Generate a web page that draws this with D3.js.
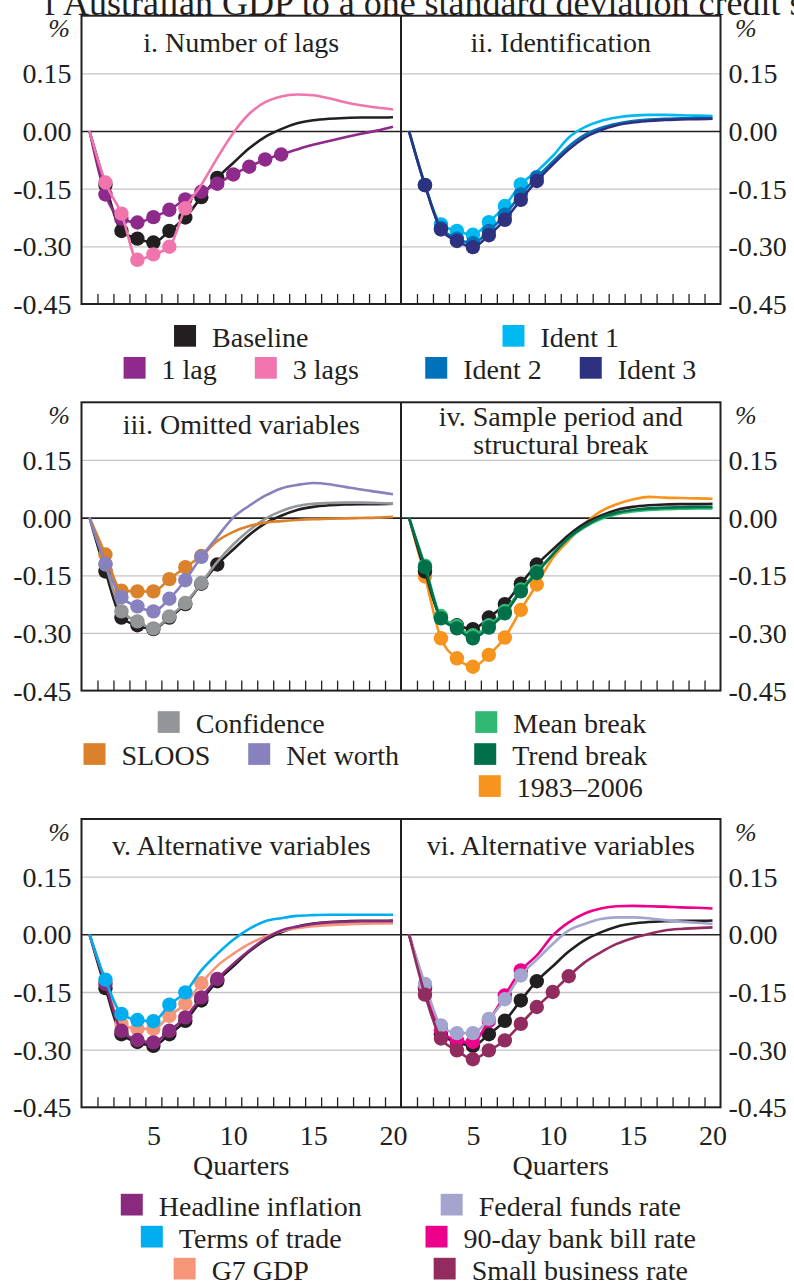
<!DOCTYPE html>
<html><head><meta charset="utf-8">
<script src="https://cdn.jsdelivr.net/npm/d3@7/dist/d3.min.js"></script>
<style>
body{margin:0;background:#fff}
svg{display:block}
text{font-family:"Liberation Serif","Times New Roman",serif;fill:#231F20}
</style>
</head><body>
<svg id="c" width="794" height="1284"></svg>
<script>
// ---------------- DATA ----------------
const quarters = d3.range(1, 21);
const yTickValues = [0.15, 0.00, -0.15, -0.30, -0.45];
const xLabelValues = [5, 10, 15, 20];
const chartTitle = "Response of Australian GDP to a one standard deviation credit shock";

const baseline   = [0, -0.14, -0.26, -0.28, -0.29, -0.26, -0.225, -0.172, -0.122, -0.083, -0.045, -0.015, 0.005, 0.02, 0.028, 0.032, 0.034, 0.035, 0.035, 0.036];
const lag1       = [0, -0.165, -0.228, -0.238, -0.224, -0.205, -0.178, -0.158, -0.137, -0.113, -0.093, -0.074, -0.061, -0.048, -0.036, -0.026, -0.016, -0.007, 0.001, 0.011];
const lag3       = [0, -0.134, -0.215, -0.335, -0.321, -0.301, -0.201, -0.14, -0.07, -0.005, 0.045, 0.075, 0.09, 0.095, 0.093, 0.085, 0.075, 0.067, 0.061, 0.056];
const ident1     = [0, -0.14, -0.243, -0.26, -0.27, -0.237, -0.195, -0.139, -0.105, -0.065, -0.017, 0.01, 0.026, 0.035, 0.04, 0.042, 0.042, 0.041, 0.04, 0.039];
const ident2     = [0, -0.14, -0.252, -0.28, -0.292, -0.26, -0.218, -0.165, -0.12, -0.08, -0.04, -0.01, 0.008, 0.019, 0.026, 0.03, 0.032, 0.033, 0.034, 0.034];
const ident3     = [0, -0.141, -0.256, -0.286, -0.302, -0.271, -0.231, -0.179, -0.13, -0.087, -0.048, -0.017, 0.002, 0.015, 0.022, 0.026, 0.029, 0.03, 0.031, 0.032];
const confidence = [0, -0.122, -0.244, -0.27, -0.288, -0.257, -0.222, -0.17, -0.115, -0.07, -0.033, -0.003, 0.017, 0.03, 0.036, 0.038, 0.039, 0.039, 0.038, 0.036];
const sloos      = [0, -0.096, -0.19, -0.192, -0.192, -0.16, -0.129, -0.1, -0.061, -0.037, -0.022, -0.013, -0.009, -0.006, -0.004, -0.003, -0.002, -0.001, 0.0, 0.002];
const netWorth   = [0, -0.12, -0.207, -0.231, -0.244, -0.211, -0.163, -0.102, -0.05, 0.0, 0.031, 0.057, 0.076, 0.085, 0.09, 0.087, 0.08, 0.073, 0.067, 0.061];
const meanBreak  = [0, -0.125, -0.256, -0.282, -0.306, -0.28, -0.243, -0.187, -0.14, -0.095, -0.055, -0.025, -0.004, 0.009, 0.016, 0.02, 0.022, 0.023, 0.024, 0.024];
const trendBreak = [0, -0.129, -0.262, -0.288, -0.314, -0.286, -0.249, -0.192, -0.144, -0.096, -0.052, -0.022, 0.0, 0.013, 0.02, 0.024, 0.026, 0.027, 0.028, 0.028];
const sample8306 = [0, -0.153, -0.314, -0.366, -0.388, -0.357, -0.312, -0.24, -0.174, -0.105, -0.059, -0.016, 0.016, 0.035, 0.047, 0.054, 0.052, 0.051, 0.05, 0.049];
const headline   = [0, -0.129, -0.251, -0.275, -0.281, -0.251, -0.216, -0.164, -0.116, -0.077, -0.042, -0.012, 0.01, 0.02, 0.027, 0.031, 0.033, 0.034, 0.034, 0.034];
const termsTrade = [0, -0.118, -0.207, -0.223, -0.226, -0.183, -0.151, -0.094, -0.051, -0.014, 0.014, 0.034, 0.042, 0.048, 0.05, 0.051, 0.051, 0.051, 0.051, 0.051];
const g7gdp      = [0, -0.125, -0.233, -0.246, -0.246, -0.212, -0.18, -0.127, -0.082, -0.051, -0.025, -0.006, 0.008, 0.016, 0.021, 0.024, 0.026, 0.027, 0.028, 0.028];
const fedFunds   = [0, -0.129, -0.237, -0.257, -0.257, -0.22, -0.169, -0.107, -0.066, -0.025, 0.01, 0.027, 0.04, 0.044, 0.044, 0.042, 0.037, 0.033, 0.03, 0.027];
const bill90     = [0, -0.135, -0.25, -0.276, -0.28, -0.225, -0.159, -0.094, -0.055, -0.003, 0.031, 0.054, 0.067, 0.073, 0.074, 0.073, 0.072, 0.07, 0.069, 0.067];
const smallBiz   = [0, -0.157, -0.271, -0.302, -0.325, -0.302, -0.276, -0.233, -0.189, -0.15, -0.109, -0.073, -0.047, -0.025, -0.01, 0.001, 0.01, 0.014, 0.016, 0.018];

// last quarter shown with a marker (markers from quarter 2)
const markedTo = {"Baseline":9,"1 lag":13,"3 lags":7,"Ident 1":8,"Ident 2":9,"Ident 3":9,
  "Confidence":8,"SLOOS":8,"Net worth":8,"Mean break":9,"Trend break":9,"1983–2006":9,
  "Headline inflation":9,"Terms of trade":7,"G7 GDP":8,"Federal funds rate":8,"90-day bank bill rate":8,"Small business rate":11};

const S = {
  "Baseline": {v: baseline, c: "#231F20"},
  "1 lag": {v: lag1, c: "#8E2A8B"},
  "3 lags": {v: lag3, c: "#F075AC"},
  "Ident 1": {v: ident1, c: "#00B9F1"},
  "Ident 2": {v: ident2, c: "#0072BC"},
  "Ident 3": {v: ident3, c: "#2E3180"},
  "Confidence": {v: confidence, c: "#939598"},
  "SLOOS": {v: sloos, c: "#D9812B"},
  "Net worth": {v: netWorth, c: "#8781BD"},
  "Mean break": {v: meanBreak, c: "#2EB872"},
  "Trend break": {v: trendBreak, c: "#00704A"},
  "1983–2006": {v: sample8306, c: "#F7941D"},
  "Headline inflation": {v: headline, c: "#8A2A7E"},
  "Terms of trade": {v: termsTrade, c: "#00AEEF"},
  "G7 GDP": {v: g7gdp, c: "#F69679"},
  "Federal funds rate": {v: fedFunds, c: "#A3A5CE"},
  "90-day bank bill rate": {v: bill90, c: "#EC008C"},
  "Small business rate": {v: smallBiz, c: "#922C5E"}
};

const panels = [
  {row:0, col:0, title:["i. Number of lags"], tdy:[36.6], series:["Baseline","1 lag","3 lags"]},
  {row:0, col:1, title:["ii. Identification"], tdy:[36.6], series:["Ident 1","Ident 2","Ident 3"]},
  {row:1, col:0, title:["iii. Omitted variables"], tdy:[31.7], series:["Baseline","Confidence","SLOOS","Net worth"]},
  {row:1, col:1, title:["iv. Sample period and","structural break"], tdy:[23.4,52], series:["1983–2006","Baseline","Mean break","Trend break"]},
  {row:2, col:0, title:["v. Alternative variables"], tdy:[36], series:["Baseline","G7 GDP","Headline inflation","Terms of trade"]},
  {row:2, col:1, title:["vi. Alternative variables"], tdy:[36], series:["Baseline","90-day bank bill rate","Federal funds rate","Small business rate"]}
];

const legends = [
  {row:0, col:0, rows:[["Baseline"],["1 lag","3 lags"]]},
  {row:0, col:1, rows:[["Ident 1"],["Ident 2","Ident 3"]]},
  {row:1, col:0, rows:[["Confidence"],["SLOOS","Net worth"]]},
  {row:1, col:1, rows:[["Mean break"],["Trend break"],["1983–2006"]]},
  {row:2, col:0, rows:[["Headline inflation"],["Terms of trade"],["G7 GDP"]]},
  {row:2, col:1, rows:[["Federal funds rate"],["90-day bank bill rate"],["Small business rate"]]}
];

// ---------------- LAYOUT ----------------
const svg = d3.select("#c");
const X0 = 81.5, XM = 401, X1 = 720.5;
const PW = XM - X0;
const rowTop = [15.7, 402.3, 819];
const PH = 288.3;
const legendStart = [346.7, 732.9, 1215.5];
const FS = 28;

// chart title (cropped at the top of the page, as in the source image)
{
  svg.append("defs").append("clipPath").attr("id", "tclip")
    .append("rect").attr("x", 45).attr("y", -40).attr("width", 800).attr("height", 60);
  const pre = svg.append("text").attr("font-size", 36).text("Response of ");
  const pw = pre.node().getComputedTextLength();
  pre.remove();
  svg.append("text").attr("clip-path", "url(#tclip)")
    .attr("x", 56 - pw).attr("y", 14.5).attr("font-size", 36).text(chartTitle);
}

rowTop.forEach((top, r) => {
  const y = d3.scaleLinear().domain([-0.45, 0.30]).range([top + PH, top]);
  [0, 1].forEach(col => {
    const left = col === 0 ? X0 : XM;
    const x = d3.scaleLinear().domain([0.5, 20.5]).range([left, left + PW]);
    const g = svg.append("g");
    // grid lines
    g.append("g").attr("transform", `translate(${left},0)`)
      .call(d3.axisLeft(y).tickValues([0.15, -0.15, -0.30]).tickSize(-PW).tickFormat(""))
      .call(a => a.select(".domain").remove())
      .call(a => a.selectAll("line").attr("stroke", "#C4C4C4").attr("stroke-width", 1.3));
    // zero line
    g.append("g").attr("transform", `translate(${left},0)`)
      .call(d3.axisLeft(y).tickValues([0]).tickSize(-PW).tickFormat(""))
      .call(a => a.select(".domain").remove())
      .call(a => a.selectAll("line").attr("stroke", "#231F20").attr("stroke-width", 1.6));
    // bottom ticks (band boundaries)
    g.append("g").attr("transform", `translate(0,${top + PH})`)
      .call(d3.axisBottom(x).tickValues(d3.range(1.5, 20, 1)).tickSize(-10).tickFormat(""))
      .call(a => a.select(".domain").remove())
      .call(a => a.selectAll("line").attr("stroke", "#231F20").attr("stroke-width", 1.3));
    // x labels on the bottom row
    if (r === 2) {
      const ax = g.append("g").attr("transform", `translate(0,${top + PH})`)
        .call(d3.axisBottom(x).tickValues(xLabelValues).tickSize(0).tickPadding(0).tickFormat(d => d));
      ax.select(".domain").remove();
      ax.selectAll("text").attr("font-size", FS).attr("y", 38).attr("dy", null)
        .attr("font-family", null).attr("fill", "#231F20");
      g.append("text").attr("x", left + PW / 2).attr("y", top + PH + 68)
        .attr("text-anchor", "middle").attr("font-size", FS).text("Quarters");
    }
    // series
    const p = panels.find(d => d.row === r && d.col === col);
    const line = d3.line().x((d, i) => x(quarters[i])).y(d => y(d)).curve(d3.curveMonotoneX);
    p.series.forEach(name => {
      const s = S[name];
      g.append("path").attr("d", line(s.v)).attr("fill", "none")
        .attr("stroke", s.c).attr("stroke-width", 2.6).attr("stroke-linejoin", "round");
      const pts = quarters.map((q, i) => ({q, v: s.v[i]})).filter(d => d.q >= 2 && d.q <= markedTo[name]);
      g.selectAll(null).data(pts).enter().append("circle")
        .attr("cx", d => x(d.q)).attr("cy", d => y(d.v)).attr("r", 7.2).attr("fill", s.c);
    });
    // panel title
    p.title.forEach((t, i) => {
      g.append("text").attr("x", left + PW / 2).attr("y", top + p.tdy[i])
        .attr("text-anchor", "middle").attr("font-size", FS).text(t);
    });
  });
  // frame
  svg.append("rect").attr("x", X0).attr("y", top).attr("width", X1 - X0).attr("height", PH)
    .attr("fill", "none").attr("stroke", "#231F20").attr("stroke-width", 2);
  svg.append("line").attr("x1", XM).attr("x2", XM).attr("y1", top).attr("y2", top + PH)
    .attr("stroke", "#231F20").attr("stroke-width", 2);
  // y axes left and right
  const fmt = d => d.toFixed(2);
  const la = svg.append("g").attr("transform", `translate(${X0},0)`)
    .call(d3.axisLeft(y).tickValues(yTickValues).tickSize(0).tickPadding(10).tickFormat(fmt));
  la.select(".domain").remove();
  la.selectAll("text").attr("font-size", FS).attr("dy", null)
    .attr("font-family", null).attr("fill", "#231F20").attr("transform", "translate(0,9.5)");
  const ra = svg.append("g").attr("transform", `translate(${X1},0)`)
    .call(d3.axisRight(y).tickValues(yTickValues).tickSize(0).tickPadding(8).tickFormat(fmt));
  ra.select(".domain").remove();
  ra.selectAll("text").attr("font-size", FS).attr("dy", null)
    .attr("font-family", null).attr("fill", "#231F20").attr("transform", "translate(0,9.5)");
  // % units
  svg.append("text").attr("x", 70).attr("y", top + 21.5).attr("text-anchor", "end")
    .attr("font-size", 26).attr("font-style", "italic").text("%");
  svg.append("text").attr("x", 735).attr("y", top + 21.5)
    .attr("font-size", 26).attr("font-style", "italic").text("%");
});

// legends
legends.forEach(L => {
  const cx = L.col === 0 ? (X0 + XM) / 2 : (XM + X1) / 2;
  L.rows.forEach((items, k) => {
    const by = legendStart[L.row] + k * 32;
    const g = svg.append("g");
    let xx = 0;
    items.forEach((name, j) => {
      if (j > 0) xx += 38;
      g.append("rect").attr("x", xx).attr("y", by - 21.7).attr("width", 22).attr("height", 21.7).attr("fill", S[name].c);
      xx += 38;
      const t = g.append("text").attr("x", xx).attr("y", by).attr("font-size", FS).text(name);
      xx += t.node().getComputedTextLength();
    });
    g.attr("transform", `translate(${cx - xx / 2},0)`);
  });
});
</script>
</body></html>
